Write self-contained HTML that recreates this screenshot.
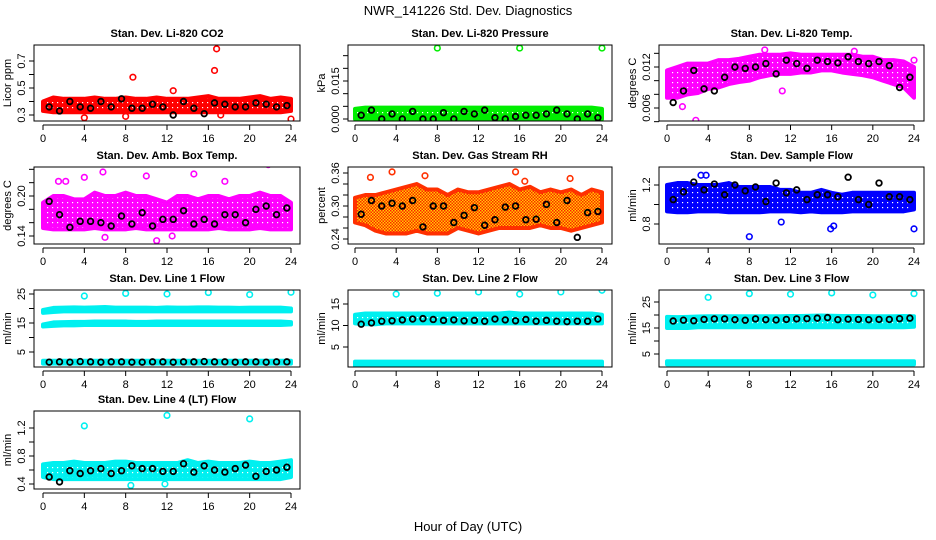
<!DOCTYPE html>
<html><head><meta charset="utf-8"><style>
html,body{margin:0;padding:0;background:#fff;}
svg{display:block;font-family:"Liberation Sans",sans-serif;}
</style></head><body>
<svg id="chart" width="936" height="540" viewBox="0 0 936 540">
<defs>
<pattern id="rhpat" width="3" height="3" patternUnits="userSpaceOnUse"><rect width="3" height="3" fill="#ffd000"/><rect width="1.5" height="1.5" fill="#ff2000"/><rect x="1.5" y="1.5" width="1.5" height="1.5" fill="#ff2000"/></pattern>
</defs>
<text x="468" y="15" text-anchor="middle" font-size="13">NWR_141226 Std. Dev. Diagnostics</text>
<text x="468" y="531" text-anchor="middle" font-size="13">Hour of Day (UTC)</text>
</svg>
<script>
const bandHours=[0,1,2,3,4,5,6,7,8,9,10,11,12,13,14,15,16,17,18,19,20,21,22,23,24];
const blackX=[0.6,1.6,2.6,3.6,4.6,5.6,6.6,7.6,8.6,9.6,10.6,11.6,12.6,13.6,14.6,15.6,16.6,17.6,18.6,19.6,20.6,21.6,22.6,23.6];
const xTicks=[0,4,8,12,16,20,24];

const co2Lo=[0.33,0.32,0.32,0.32,0.32,0.32,0.32,0.32,0.32,0.32,0.32,0.32,0.32,0.32,0.32,0.32,0.32,0.32,0.32,0.32,0.32,0.32,0.32,0.32,0.33];
const co2Hi=[0.40,0.43,0.42,0.42,0.42,0.43,0.42,0.42,0.43,0.42,0.42,0.43,0.42,0.42,0.42,0.43,0.44,0.42,0.42,0.42,0.43,0.44,0.42,0.43,0.42];
const co2Black=[0.36,0.33,0.40,0.36,0.35,0.40,0.36,0.42,0.35,0.35,0.38,0.36,0.30,0.40,0.35,0.31,0.39,0.38,0.36,0.36,0.39,0.38,0.36,0.37];
const co2OutX=[4.0,8.0,8.7,12.6,16.6,16.8,17.2,24.0];
const co2OutY=[0.28,0.29,0.58,0.48,0.63,0.79,0.30,0.27];

const presLo=[0,0,0,0,0,0,0,0,0,0,0,0,0,0,0,0,0,0,0,0,0,0,0,0,0];
const presHi=[0.004,0.0045,0.0045,0.0045,0.0045,0.0045,0.0045,0.0045,0.0045,0.0045,0.0045,0.0045,0.0045,0.0045,0.0045,0.0045,0.0045,0.0045,0.0045,0.0045,0.0045,0.0045,0.0045,0.0045,0.004];
const presBlack=[0.0015,0.0035,0.0,0.002,0.0,0.003,0.0,0.0,0.0025,0.0,0.003,0.002,0.0035,0.0005,0.0,0.001,0.0015,0.0015,0.002,0.0035,0.002,0.0,0.002,0.0005];
const presOutX=[8,16,24];
const presOutY=[0.028,0.028,0.028];

const tempLo=[0.0075,0.0075,0.008,0.0082,0.0088,0.009,0.0095,0.0098,0.010,0.0105,0.0108,0.011,0.011,0.0112,0.0112,0.0115,0.0115,0.0112,0.011,0.0108,0.0105,0.010,0.0095,0.009,0.0075];
const tempHi=[0.0115,0.012,0.0125,0.0125,0.0125,0.013,0.013,0.0132,0.0135,0.0138,0.0138,0.0138,0.014,0.0138,0.0138,0.0138,0.0138,0.0138,0.0138,0.0135,0.0135,0.013,0.013,0.0128,0.012];
const tempBlack=[0.0068,0.0085,0.0115,0.0088,0.0085,0.0105,0.0120,0.0118,0.0120,0.0125,0.0110,0.0130,0.0125,0.0118,0.0130,0.0128,0.0126,0.0135,0.0128,0.0125,0.0128,0.0122,0.0090,0.0105];
const tempOutX=[1.5,2.8,9.5,11.2,18.2,24];
const tempOutY=[0.0062,0.0042,0.0145,0.0085,0.0143,0.0130];

const ambLo=[0.152,0.150,0.150,0.150,0.150,0.152,0.150,0.150,0.150,0.152,0.150,0.150,0.150,0.150,0.150,0.150,0.150,0.152,0.150,0.150,0.150,0.152,0.150,0.150,0.150];
const ambHi=[0.19,0.20,0.20,0.195,0.195,0.205,0.20,0.20,0.205,0.20,0.20,0.195,0.19,0.20,0.20,0.195,0.20,0.20,0.195,0.20,0.20,0.205,0.20,0.20,0.19];
const ambBlack=[0.192,0.172,0.153,0.162,0.162,0.160,0.155,0.170,0.158,0.175,0.155,0.165,0.165,0.178,0.158,0.165,0.158,0.172,0.172,0.160,0.180,0.185,0.172,0.182];
const ambOutX=[1.5,2.2,4.0,5.8,10.0,11.0,14.6,17.6,21.8,12.5,6.0];
const ambOutY=[0.222,0.222,0.228,0.236,0.230,0.133,0.233,0.222,0.247,0.140,0.138];

const rhLo=[0.27,0.265,0.255,0.25,0.25,0.25,0.255,0.25,0.25,0.25,0.26,0.255,0.25,0.255,0.26,0.26,0.26,0.26,0.265,0.26,0.26,0.255,0.26,0.265,0.27];
const rhHi=[0.315,0.32,0.32,0.325,0.33,0.335,0.34,0.33,0.33,0.32,0.33,0.325,0.325,0.33,0.335,0.34,0.33,0.335,0.325,0.33,0.325,0.33,0.32,0.33,0.325];
const rhBlack=[0.285,0.31,0.30,0.305,0.30,0.31,0.262,0.30,0.30,0.27,0.283,0.297,0.265,0.275,0.298,0.30,0.275,0.276,0.303,0.27,0.31,0.243,0.288,0.29];
const rhOutX=[1.5,3.6,6.8,15.6,16.5,20.9];
const rhOutY=[0.352,0.362,0.355,0.362,0.345,0.35];

const sfLo=[0.93,0.92,0.92,0.93,0.93,0.93,0.92,0.92,0.92,0.92,0.93,0.93,0.93,0.92,0.93,0.92,0.92,0.92,0.93,0.93,0.93,0.93,0.93,0.93,0.95];
const sfHi=[1.20,1.22,1.22,1.20,1.20,1.20,1.22,1.18,1.18,1.18,1.18,1.15,1.15,1.12,1.12,1.15,1.12,1.10,1.12,1.12,1.12,1.12,1.12,1.12,1.12];
const sfBlack=[1.05,1.13,1.23,1.15,1.21,1.10,1.20,1.14,1.18,1.03,1.22,1.12,1.15,1.05,1.10,1.10,1.08,1.28,1.05,1.00,1.22,1.08,1.08,1.05];
const sfOutX=[3.3,3.8,8.0,15.9,16.2,24.0,11.1];
const sfOutY=[1.30,1.30,0.67,0.75,0.78,0.75,0.82];

const l1aLo=[18.5,18.8,19.0,19.0,19.0,19.0,19.0,19.0,19.0,19.0,19.0,19.0,19.0,19.0,19.0,19.0,19.0,19.0,19.0,19.0,19.0,19.0,19.0,19.0,19.0];
const l1aHi=[19.5,20.2,20.3,20.4,20.3,20.4,20.5,20.3,20.3,20.3,20.3,20.2,20.4,20.3,20.3,20.4,20.4,20.3,20.3,20.2,20.3,20.3,20.3,20.3,20.0];
const l1bLo=[13.8,14.0,14.2,14.2,14.3,14.3,14.3,14.3,14.3,14.3,14.3,14.3,14.3,14.3,14.3,14.3,14.3,14.3,14.3,14.3,14.3,14.3,14.3,14.3,14.5];
const l1bHi=[14.5,15.2,15.3,15.4,15.4,15.5,15.5,15.5,15.5,15.4,15.4,15.5,15.5,15.5,15.5,15.5,15.5,15.5,15.5,15.5,15.5,15.5,15.5,15.5,15.3];
const l1cLo=[1.0,1.0,1.0,1.0,1.0,1.0,1.0,1.0,1.0,1.0,1.0,1.0,1.0,1.0,1.0,1.0,1.0,1.0,1.0,1.0,1.0,1.0,1.0,1.0,1.0];
const l1cHi=[2.0,2.0,2.0,2.0,2.0,2.0,2.0,2.0,2.0,2.0,2.0,2.0,2.0,2.0,2.0,2.0,2.0,2.0,2.0,2.0,2.0,2.0,2.0,2.0,2.0];
const l1Black=[1.5,1.6,1.5,1.7,1.6,1.5,1.6,1.6,1.5,1.5,1.6,1.6,1.5,1.6,1.6,1.7,1.6,1.6,1.5,1.6,1.6,1.5,1.6,1.6];
const l1OutX=[4,8,12,16,20,24];
const l1OutY=[24.3,25.2,25.0,25.5,24.8,25.6];

const l2aLo=[10.5,10.3,10.3,10.5,10.5,10.5,10.5,10.5,10.5,10.5,10.5,10.5,10.5,10.5,10.5,10.5,10.5,10.5,10.5,10.5,10.5,10.5,10.5,10.5,10.5];
const l2aHi=[12.5,12.8,12.8,12.8,12.8,12.8,12.8,12.8,12.8,12.8,12.8,12.8,12.8,12.8,12.8,13.0,12.8,12.8,12.8,12.8,12.8,12.8,12.8,12.8,12.5];
const l2bLo=[0.5,0.5,0.5,0.5,0.5,0.5,0.5,0.5,0.5,0.5,0.5,0.5,0.5,0.5,0.5,0.5,0.5,0.5,0.5,0.5,0.5,0.5,0.5,0.5,0.5];
const l2bHi=[1.6,1.6,1.6,1.6,1.6,1.6,1.6,1.6,1.6,1.6,1.6,1.6,1.6,1.6,1.6,1.6,1.6,1.6,1.6,1.6,1.6,1.6,1.6,1.6,1.6];
const l2Black=[10.3,10.6,11.0,11.1,11.3,11.5,11.6,11.4,11.2,11.3,11.1,11.2,11.0,11.5,11.3,11.1,11.4,11.0,11.2,11.0,10.9,11.0,11.0,11.5];
const l2OutX=[4,8,12,16,20,24];
const l2OutY=[17.3,17.5,17.8,17.3,17.8,18.2];

const l3aLo=[15.0,15.0,15.0,15.3,15.3,15.3,15.3,15.3,15.3,15.3,15.3,15.3,15.3,15.3,15.3,15.3,15.3,15.3,15.3,15.3,15.3,15.3,15.3,15.3,15.5];
const l3aHi=[19.3,19.2,19.3,19.4,19.5,19.5,19.5,19.5,19.5,19.5,19.5,19.5,19.6,19.6,19.7,19.8,19.7,19.6,19.6,19.6,19.5,19.5,19.5,19.6,19.5];
const l3bLo=[1.0,1.0,1.0,1.0,1.0,1.0,1.0,1.0,1.0,1.0,1.0,1.0,1.0,1.0,1.0,1.0,1.0,1.0,1.0,1.0,1.0,1.0,1.0,1.0,1.0];
const l3bHi=[2.2,2.2,2.2,2.2,2.2,2.2,2.2,2.2,2.2,2.2,2.2,2.2,2.2,2.2,2.2,2.2,2.2,2.2,2.2,2.2,2.2,2.2,2.2,2.2,2.2];
const l3Black=[17.7,18.0,17.8,18.3,18.5,18.5,18.2,18.0,18.5,18.2,18.1,18.3,18.5,18.6,18.8,19.0,18.2,18.4,18.3,18.2,18.3,18.3,18.6,18.8];
const l3OutX=[4,8,12,16,20,24];
const l3OutY=[26.8,28.2,28.0,28.5,27.7,28.2];

const l4Lo=[0.50,0.47,0.47,0.47,0.47,0.47,0.47,0.47,0.47,0.47,0.47,0.47,0.47,0.47,0.47,0.47,0.47,0.47,0.47,0.47,0.47,0.47,0.47,0.47,0.50];
const l4Hi=[0.68,0.70,0.70,0.72,0.70,0.70,0.70,0.72,0.72,0.70,0.70,0.70,0.70,0.70,0.74,0.70,0.72,0.70,0.70,0.70,0.72,0.70,0.70,0.72,0.74];
const l4Black=[0.50,0.43,0.59,0.55,0.59,0.62,0.55,0.59,0.66,0.62,0.62,0.58,0.58,0.69,0.57,0.66,0.60,0.57,0.62,0.67,0.51,0.58,0.60,0.64];
const l4OutX=[4,12,20,8.5,11.8];
const l4OutY=[1.23,1.38,1.33,0.38,0.40];

const NS='http://www.w3.org/2000/svg';
const svg=document.getElementById('chart');
const defs=svg.querySelector('defs');
function mk(tag,attrs,parent){const e=document.createElementNS(NS,tag);for(const k in attrs)e.setAttribute(k,attrs[k]);(parent||svg).appendChild(e);return e;}
const patCache={};
function texPattern(col){
  if(patCache[col])return patCache[col];
  const id='tex'+Object.keys(patCache).length;
  const pt=mk('pattern',{id:id,width:5,height:5,patternUnits:'userSpaceOnUse'},defs);
  mk('rect',{width:5,height:5,fill:col},pt);
  mk('rect',{x:2,y:2,width:1.2,height:1.2,fill:'#fff'},pt);
  patCache[col]='url(#'+id+')';
  return patCache[col];
}

const cols=[{l:34,r:300,x0:43,x24:291},{l:348,r:612,x0:355,x24:602},{l:659,r:924,x0:667,x24:914}];
const rows=[{t:45,b:121},{t:167,b:244},{t:290,b:367},{t:411,b:489}];

const panels=[
 {key:'co2',title:'Stan. Dev. Li-820 CO2',ylab:'Licor ppm',c:0,r:0,col:'#ff0000',v1:0.3,p1:115,v2:0.7,p2:61,ticks:[0.3,0.4,0.5,0.6,0.7],labels:['0.3','','0.5','','0.7'],bands:[[co2Lo,co2Hi]],bk:co2Black,ox:co2OutX,oy:co2OutY},
 {key:'pressure',title:'Stan. Dev. Li-820 Pressure',ylab:'kPa',c:1,r:0,col:'#00ee00',v1:0,p1:119,v2:0.015,p2:81,ticks:[0,0.005,0.01,0.015,0.02,0.025],labels:['0.000','','','0.015','',''],bands:[[presLo,presHi]],bk:presBlack,ox:presOutX,oy:presOutY},
 {key:'li820-temp',title:'Stan. Dev. Li-820 Temp.',ylab:'degrees C',c:2,r:0,col:'#ff00ff',v1:0.006,p1:108,v2:0.012,p2:67,ticks:[0.004,0.006,0.008,0.01,0.012,0.014],labels:['','0.006','','','0.012',''],bands:[[tempLo,tempHi]],bk:tempBlack,ox:tempOutX,oy:tempOutY},
 {key:'amb-box-temp',title:'Stan. Dev. Amb. Box Temp.',ylab:'degrees C',c:0,r:1,col:'#ff00ff',v1:0.14,p1:236,v2:0.20,p2:196,ticks:[0.14,0.16,0.18,0.20,0.22,0.24],labels:['0.14','','','0.20','',''],bands:[[ambLo,ambHi]],bk:ambBlack,ox:ambOutX,oy:ambOutY},
 {key:'gas-rh',title:'Stan. Dev. Gas Stream RH',ylab:'percent',c:1,r:1,col:'#ff3000',fill:'url(#rhpat)',v1:0.24,p1:239,v2:0.36,p2:173,ticks:[0.24,0.26,0.28,0.30,0.32,0.34,0.36],labels:['0.24','','','0.30','','','0.36'],bands:[[rhLo,rhHi]],bk:rhBlack,ox:rhOutX,oy:rhOutY},
 {key:'sample-flow',title:'Stan. Dev. Sample Flow',ylab:'ml/min',c:2,r:1,col:'#0000ff',v1:0.8,p1:224,v2:1.2,p2:185,ticks:[0.8,1.0,1.2],labels:['0.8','','1.2'],bands:[[sfLo,sfHi]],bk:sfBlack,ox:sfOutX,oy:sfOutY},
 {key:'line1-flow',title:'Stan. Dev. Line 1 Flow',ylab:'ml/min',c:0,r:2,col:'#00f0f0',v1:5,p1:352,v2:25,p2:294,ticks:[5,10,15,20,25],labels:['5','','15','','25'],bands:[[l1aLo,l1aHi],[l1bLo,l1bHi],[l1cLo,l1cHi]],bk:l1Black,ox:l1OutX,oy:l1OutY},
 {key:'line2-flow',title:'Stan. Dev. Line 2 Flow',ylab:'ml/min',c:1,r:2,col:'#00f0f0',v1:5,p1:347,v2:15,p2:304,ticks:[5,10,15],labels:['5','10','15'],bands:[[l2aLo,l2aHi],[l2bLo,l2bHi]],bk:l2Black,ox:l2OutX,oy:l2OutY},
 {key:'line3-flow',title:'Stan. Dev. Line 3 Flow',ylab:'ml/min',c:2,r:2,col:'#00f0f0',v1:5,p1:354,v2:25,p2:302,ticks:[5,10,15,20,25],labels:['5','','15','','25'],bands:[[l3aLo,l3aHi],[l3bLo,l3bHi]],bk:l3Black,ox:l3OutX,oy:l3OutY},
 {key:'line4-flow',title:'Stan. Dev. Line 4 (LT) Flow',ylab:'ml/min',c:0,r:3,col:'#00f0f0',v1:0.4,p1:484,v2:1.2,p2:428,ticks:[0.4,0.6,0.8,1.0,1.2],labels:['0.4','','0.8','','1.2'],bands:[[l4Lo,l4Hi]],bk:l4Black,ox:l4OutX,oy:l4OutY}
];

panels.forEach(p=>{
  const C=cols[p.c],R=rows[p.r];
  const xs=h=>C.x0+(C.x24-C.x0)*h/24;
  const ys=v=>p.p1+(p.p2-p.p1)*(v-p.v1)/(p.v2-p.v1);
  const g=mk('g',{});
  
  
  const clipId='clip-'+p.key;
  const cp=mk('clipPath',{id:clipId},g);
  mk('rect',{x:C.l,y:R.t,width:C.r-C.l,height:R.b-R.t},cp);
  const plot=mk('g',{'clip-path':'url(#'+clipId+')'},g);
  p.bands.forEach((b,i)=>{
    let pts=bandHours.map((h,j)=>xs(h)+','+ys(b[1][j]));
    pts=pts.concat(bandHours.slice().reverse().map((h,j)=>xs(h)+','+ys(b[0][bandHours.length-1-j])));
    const poly=mk('polygon',{points:pts.join(' '),fill:p.fill||texPattern(p.col),stroke:p.col,'stroke-width':4,'stroke-linejoin':'round'},plot);
    
    
  });
  p.ox.forEach((x,i)=>{
    const c=mk('circle',{cx:xs(x),cy:ys(p.oy[i]),r:2.8,fill:'none',stroke:p.col,'stroke-width':1.6},plot);
    
    
  });
  p.bk.forEach((v,i)=>{
    const c=mk('circle',{cx:xs(blackX[i]),cy:ys(v),r:2.8,fill:'none',stroke:'#000','stroke-width':1.8},plot);
    
    
  });
  const box=mk('rect',{x:C.l,y:R.t,width:C.r-C.l,height:R.b-R.t,fill:'none',stroke:'#000','stroke-width':1},g);
  
  
  const t=mk('text',{x:(C.l+C.r)/2,y:R.t-8,'text-anchor':'middle','font-size':11,'font-weight':'bold'},g);
  t.textContent=p.title;
  
  
  const ay=R.b+4;
  mk('line',{x1:xs(0),x2:xs(24),y1:ay,y2:ay,stroke:'#000'},g);
  xTicks.forEach(h=>{
    mk('line',{x1:xs(h),x2:xs(h),y1:ay,y2:ay+5,stroke:'#000'},g);
    const tl=mk('text',{x:xs(h),y:ay+17,'text-anchor':'middle','font-size':11},g);
    tl.textContent=h;
    
    
  });
  const ax=C.l;
  mk('line',{x1:ax,x2:ax,y1:ys(p.ticks[0]),y2:ys(p.ticks[p.ticks.length-1]),stroke:'#000'},g);
  p.ticks.forEach((v,i)=>{
    mk('line',{x1:ax-5,x2:ax,y1:ys(v),y2:ys(v),stroke:'#000'},g);
    if(p.labels[i]){
      const yl=mk('text',{x:0,y:0,'text-anchor':'middle','font-size':11,transform:'translate('+(ax-9)+','+ys(v)+') rotate(-90)'},g);
      yl.textContent=p.labels[i];
      
      
    }
  });
  const yt=mk('text',{x:0,y:0,'text-anchor':'middle','font-size':11,transform:'translate('+(ax-23)+','+((R.t+R.b)/2)+') rotate(-90)'},g);
  yt.textContent=p.ylab;
  
  
});
</script>
</body></html>
